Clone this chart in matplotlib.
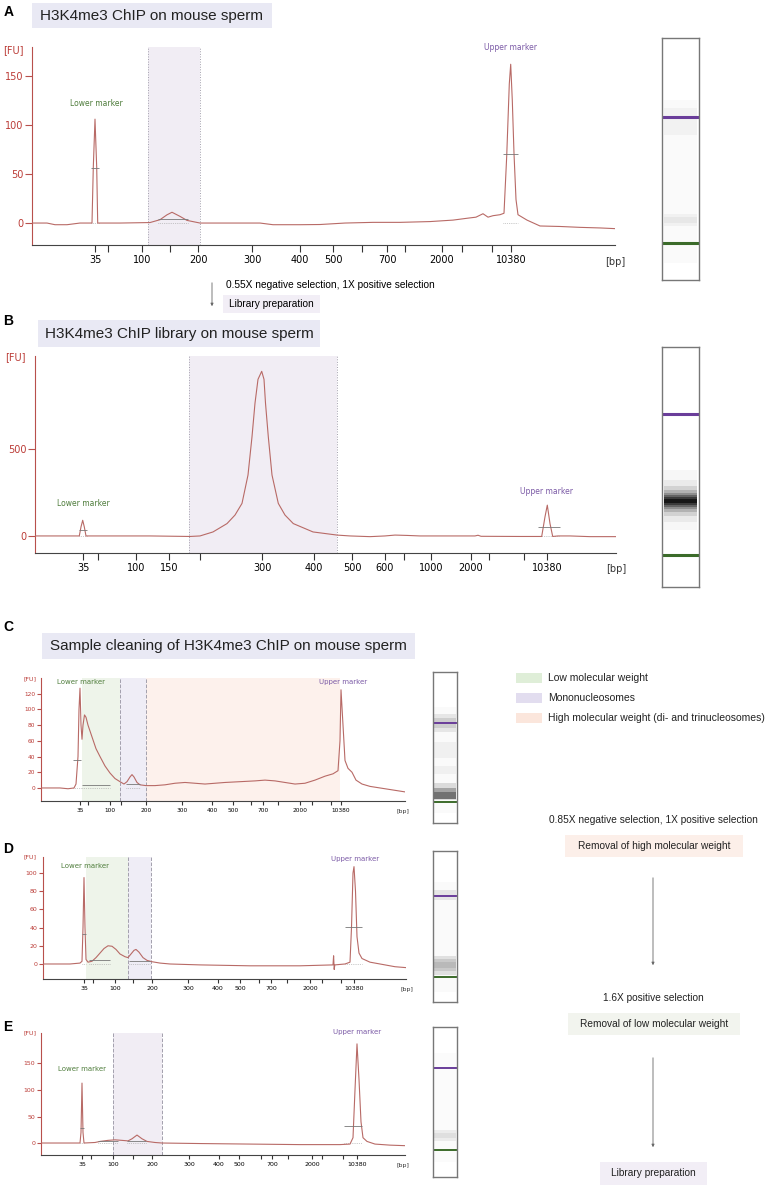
import matplotlib.pyplot as plt
from matplotlib.patches import Rectangle, FancyArrowPatch

W, H = 773, 1186

# x values are migration positions on the same scale as each panel's tick positions
# --- panel A: H3K4me3 ChIP on mouse sperm ---
a_trace = [(32, 0), (47, 0), (55, -1.7), (67, -1.7), (80, 0), (92, 0), (93.3, 57), (95, 106), (96.7, 57),
           (97.7, 0), (120, 0), (150, 0.5), (160, 3.4), (167, 8.4), (172, 11), (180, 6.8), (187, 2.7),
           (200, 0), (230, 0), (260, 0), (273, -1.7), (300, -1.7), (320, -1.5), (345, 0), (373, 0.7),
           (400, 0.7), (430, 1.5), (453, 3), (468, 5), (476, 6), (483, 9.5), (488, 6), (493, 7.5),
           (500, 8.5), (504, 10), (506.7, 68), (509.3, 142), (510.7, 162), (512.3, 125), (514, 71),
           (516, 24), (518, 8.5), (527, 3), (540, -3), (560, -3.5), (580, -4.4), (600, -5), (615, -5.7)]
a_ticks = [95, 108, 142, 170, 198, 252, 300, 333, 362, 387, 405, 442, 462, 492, 511]
a_labels = ['35', '', '100', '', '200', '300', '400', '500', '', '700', '', '2000', '', '', '10380']
a_yticks = [0, 50, 100, 150]
a_bars = [(91, 99, 56), (158, 188, 4), (503, 518, 70)]

# --- panel B: library ---
b_trace = [(35, 0), (60, 0), (79.3, 0), (81, 52), (82.7, 90), (84.3, 52), (86, 0), (120, 0), (150, 0),
           (190, -3), (200, 0), (213, 23), (227, 71), (235, 120), (242, 187), (248, 350), (252, 570),
           (255, 763), (258, 900), (261.7, 946), (264, 900), (265.5, 763), (268.3, 570), (272, 350),
           (278.3, 187), (285, 120), (293.3, 71), (313, 23), (337, 5), (350, 0), (370, -4), (385, 0),
           (395, 5), (407, 3), (420, 0), (475, 0), (478, 4), (481, -2), (520, -3), (541.7, -3), (545, 110),
           (547.3, 177), (550, 71), (552.7, -3), (558, 0), (570, 0), (590, -4), (616, -4)]
b_ticks = [83, 98, 136, 169, 200, 262, 314, 352, 385, 404, 431, 471, 489, 524, 547]
b_labels = ['35', '', '100', '150', '', '300', '400', '500', '600', '', '1000', '2000', '', '', '10380']
b_yticks = [0, 500]
b_bars = [(79, 87, 35), (538, 560, 50)]

# --- panel C: sample before cleaning ---
c_trace = [(41, 0), (60, 0), (68, -1), (74, 0), (76, 5), (78, 40), (79, 100), (80, 127), (81, 80), (82, 62),
           (83, 80), (84.5, 93), (86, 90), (88, 80), (92, 65), (96, 50), (100, 40), (105, 28), (110, 19),
           (115, 12), (120, 8), (124, 5), (127, 8), (130, 14), (132, 17), (134, 14), (137, 7), (140, 4),
           (146, 3), (155, 3), (165, 4), (175, 6), (185, 7), (195, 6), (205, 5), (215, 6), (225, 7),
           (240, 8), (255, 9), (265, 10), (275, 9), (285, 7), (295, 5), (305, 6), (315, 10), (325, 15),
           (333, 18), (338, 22), (340, 60), (341, 125), (343, 80), (345, 35), (348, 25), (352, 20),
           (356, 10), (362, 5), (370, 2), (380, 0), (395, -3), (405, -5)]
c_ticks = [80, 88, 110, 121, 146, 182, 212, 233, 251, 263, 278, 300, 312, 331, 341]
c_labels = ['35', '', '100', '', '200', '300', '400', '500', '', '700', '', '2000', '', '', '10380']
c_yticks = [0, 20, 40, 60, 80, 100, 120]
c_bars = [(73, 81, 35), (82, 110, 4), (126, 140, 5)]

# --- panel D: after removal of high molecular weight ---
d_trace = [(43, 0), (70, 0), (80, 1), (82, 3), (83, 40), (84, 95), (85, 40), (86, 5), (88, 2), (92, 3),
           (96, 7), (100, 12), (104, 17), (108, 20), (112, 19.5), (116, 16), (120, 11), (125, 8), (128, 7),
           (131, 11), (134, 15), (136, 16), (139, 13), (143, 7), (147, 4), (152, 2.5), (160, 1), (170, 0),
           (200, -1), (250, -2), (300, -2), (333, -1), (333.6, 9), (334.2, -6), (334.8, -1), (345, 0),
           (350, 2), (351.5, 40), (353, 100), (354, 107), (355.5, 80), (357, 30), (359, 12), (362, 6),
           (370, 2), (380, 0), (395, -3), (406, -4)]
d_ticks = [84, 93, 115, 133, 152, 188, 218, 240, 259, 271, 287, 310, 322, 341, 354]
d_labels = ['35', '', '100', '', '200', '300', '400', '500', '', '700', '', '2000', '', '', '10380']
d_yticks = [0, 20, 40, 60, 80, 100]
d_bars = [(82, 86, 33), (89, 110, 4), (129, 150, 3), (345, 362, 41)]

# --- panel E: after removal of low molecular weight ---
e_trace = [(41, 0), (70, 0), (80, 0), (81, 20), (82, 113), (83, 20), (84, 0), (95, 1), (100, 3), (108, 5),
           (115, 6), (122, 5), (128, 4), (132, 8), (137, 15), (142, 8), (147, 3), (155, 1), (162, 0),
           (200, -1), (250, -2), (300, -3), (340, -3), (350, -2), (353, 10), (355, 100), (357, 187),
           (359, 120), (361, 40), (363, 10), (367, 3), (375, -2), (390, -4), (405, -5)]
e_ticks = [82, 91, 113, 133, 152, 189, 219, 239, 261, 272, 288, 312, 322, 343, 357]
e_labels = ['35', '', '100', '', '200', '300', '400', '500', '', '700', '', '2000', '', '', '10380']
e_yticks = [0, 50, 100, 150]
e_bars = [(80, 84, 28), (98, 118, 3), (127, 146, 4), (344, 362, 32)]

# gel lanes: (top, bottom, darkness) smears and (position, colour) bands
lane_a_smears = [(100, 263, 0.02), (108, 135, 0.03), (214, 226, 0.035), (217, 223, 0.04)]
lane_a_bands = [(117, 'purple'), (243, 'green')]
lane_b_smears = [(470, 530, 0.03), (480, 522, 0.05), (486, 516, 0.1), (490, 512, 0.15), (493, 509, 0.2),
                 (495, 507, 0.3), (497, 505, 0.4), (499, 503, 0.6)]
lane_b_bands = [(414, 'purple'), (555, 'green')]
lane_c_smears = [(707, 813, 0.02), (714, 732, 0.08), (718, 728, 0.1), (742, 758, 0.04), (766, 774, 0.04),
                 (783, 800, 0.12), (788, 799, 0.25), (792, 799, 0.3)]
lane_c_bands = [(723, 'purple'), (802, 'green')]
lane_d_smears = [(882, 992, 0.02), (890, 900, 0.08), (956, 975, 0.1), (959, 971, 0.1), (962, 968, 0.08)]
lane_d_bands = [(896, 'purple'), (977, 'green')]
lane_e_smears = [(1053, 1162, 0.015), (1130, 1141, 0.06), (1133, 1138, 0.05)]
lane_e_bands = [(1068, 'purple'), (1150, 'green')]

TRACE = '#b86a66'
SPINE = '#b8504c'
RED = '#bb3b36'
GREEN_T = '#4f7d3c'
PURPLE_T = '#7b5aa6'
BAND = {'purple': '#6a3d9a', 'green': '#3b6b2a'}
LAV = '#f1edf4'

plt.rcParams['font.family'] = ['DejaVu Sans']
fig = plt.figure(figsize=(W / 100, H / 100), dpi=100)


def px_box(x0, y0, x1, y1):
    return [x0 / W, 1 - y1 / H, (x1 - x0) / W, (y1 - y0) / H]


def ftext(x, y, s, **kw):
    kw.setdefault('ha', 'center')
    kw.setdefault('va', 'center')
    fig.text(x / W, 1 - y / H, s, **kw)


def fbox(x0, y0, x1, y1, color):
    fig.add_artist(Rectangle((x0 / W, 1 - y1 / H), (x1 - x0) / W, (y1 - y0) / H,
                             transform=fig.transFigure, fc=color, ec='none', zorder=0))


def farrow(x, y0, y1):
    fig.add_artist(FancyArrowPatch((x / W, 1 - y0 / H), (x / W, 1 - y1 / H), transform=fig.transFigure,
                                   arrowstyle='-|>', mutation_scale=4, lw=0.6, color='#666'))


def electro(box, trace, bars, ylim, yticks, ticks, labels, spans, edges, ls, fs, tlen):
    ax = fig.add_axes(px_box(*box))
    for x0, x1, c in spans:
        ax.axvspan(x0, x1, color=c, lw=0, zorder=0)
    for e in edges:
        ax.axvline(e, color='#a3a0ad', lw=0.7, ls=ls, zorder=1)
    xs = [p[0] for p in trace]
    ys = [p[1] for p in trace]
    ax.plot(xs, ys, color=TRACE, lw=0.8, zorder=3)
    for x0, x1, y in bars:
        ax.hlines(y, x0, x1, color='#777', lw=0.6, zorder=4)
        ax.hlines(0, x0, x1, color='#999', lw=0.5, ls=':', zorder=2)
    ax.set_xlim(box[0], box[2])
    ax.set_ylim(*ylim)
    ax.set_xticks(ticks, labels)
    ax.set_yticks(yticks)
    ax.tick_params(axis='x', length=tlen, width=0.8, color='#333', labelsize=fs, pad=2)
    ax.tick_params(axis='y', length=tlen, width=0.8, color=SPINE, labelcolor=RED, labelsize=fs, pad=1)
    for s in ['top', 'right']:
        ax.spines[s].set_visible(False)
    ax.spines['left'].set_color(SPINE)
    ax.spines['bottom'].set_color('#444')
    ax.patch.set_alpha(0)
    return ax


def lane(box, smears, bands, bw):
    ax = fig.add_axes(px_box(*box))
    ax.set_xlim(0, 1)
    ax.set_ylim(box[3], box[1])
    for y0, y1, a in smears:
        ax.axhspan(y0, y1, xmin=0.06, xmax=0.94, color='k', alpha=a, lw=0)
    for y, c in bands:
        ax.axhline(y, xmin=0.06, xmax=0.94, color=BAND[c], lw=bw)
    ax.set_xticks([])
    ax.set_yticks([])
    for s in ax.spines.values():
        s.set_color('#777')
        s.set_linewidth(1)


SANS = 'Liberation Sans'

# ---------- A ----------
ftext(9, 12, 'A', fontsize=10, fontweight='bold', family=SANS)
fbox(32, 3, 272, 28, '#e9e9f4')
ftext(152, 16, 'H3K4me3 ChIP on mouse sperm', fontsize=11, family=SANS, color='#222')
electro((32, 47, 615, 245), a_trace, a_bars, (-22.4, 179.6), a_yticks, a_ticks, a_labels,
        [(148, 200, LAV)], [148, 200], ':', 7, 5)
ftext(13, 50, '[FU]', fontsize=7, color=RED)
ftext(615, 262, '[bp]', fontsize=7, color='#333')
ftext(96, 103, 'Lower marker', fontsize=5.5, color=GREEN_T)
ftext(511, 48, 'Upper marker', fontsize=5.5, color=PURPLE_T)
lane((662, 38, 699, 280), lane_a_smears, lane_a_bands, 2.2)

# A -> B
farrow(212, 280, 309)
ftext(226, 285, '0.55X negative selection, 1X positive selection', fontsize=7.3, family=SANS, ha='left')
fbox(223, 295, 320, 313, '#f2eef6')
ftext(271, 304, 'Library preparation', fontsize=7.3, family=SANS)

# ---------- B ----------
ftext(8, 321, 'B', fontsize=10, fontweight='bold', family=SANS)
fbox(38, 320, 320, 347, '#e9e9f4')
ftext(179, 334, 'H3K4me3 ChIP library on mouse sperm', fontsize=11, family=SANS, color='#222')
electro((35, 356, 616, 553), b_trace, b_bars, (-98, 1034), b_yticks, b_ticks, b_labels,
        [(189, 337, LAV)], [189, 337], ':', 7, 5)
ftext(15, 357, '[FU]', fontsize=7, color=RED)
ftext(616, 569, '[bp]', fontsize=7, color='#333')
ftext(83, 504, 'Lower marker', fontsize=5.5, color=GREEN_T)
ftext(547, 491, 'Upper marker', fontsize=5.5, color=PURPLE_T)
lane((662, 347, 699, 587), lane_b_smears, lane_b_bands, 2.2)

# ---------- C ----------
ftext(8, 627, 'C', fontsize=10, fontweight='bold', family=SANS)
fbox(42, 633, 415, 659, '#e9e9f4')
ftext(228, 646, 'Sample cleaning of H3K4me3 ChIP on mouse sperm', fontsize=11, family=SANS, color='#222')
electro((41, 678, 405, 801), c_trace, c_bars, (-16.6, 140), c_yticks, c_ticks, c_labels,
        [(82, 120, '#eef4ea'), (120, 146, '#efedf6'), (146, 340, '#fdf1ec')], [120, 146], '--', 4.2, 3)
ftext(30, 679, '[FU]', fontsize=4.5, color=RED)
ftext(403, 811, '[bp]', fontsize=4.5, color='#333')
ftext(81, 682, 'Lower marker', fontsize=5, color=GREEN_T)
ftext(343, 682, 'Upper marker', fontsize=5, color=PURPLE_T)
lane((433, 672, 457, 823), lane_c_smears, lane_c_bands, 1.4)

# legend
legend_items = ['Low molecular weight', 'Mononucleosomes', 'High molecular weight (di- and trinucleosomes)']
legend_colors = ['#dfeed8', '#e2ddef', '#fbe6dc']
for i, (t, c) in enumerate(zip(legend_items, legend_colors)):
    y = 678 + 20 * i
    fbox(516, y - 5, 542, y + 5, c)
    ftext(548, y, t, fontsize=7.5, family=SANS, ha='left', color='#222')

# ---------- D ----------
ftext(8, 849, 'D', fontsize=10, fontweight='bold', family=SANS)
electro((43, 857, 406, 979), d_trace, d_bars, (-16.5, 117.6), d_yticks, d_ticks, d_labels,
        [(86, 128, '#eef4ea'), (128, 151, '#efedf6')], [128, 151], '--', 4.5, 3)
ftext(30, 857, '[FU]', fontsize=4.5, color=RED)
ftext(407, 989, '[bp]', fontsize=4.5, color='#333')
ftext(85, 866, 'Lower marker', fontsize=5, color=GREEN_T)
ftext(355, 859, 'Upper marker', fontsize=5, color=PURPLE_T)
lane((433, 851, 457, 1002), lane_d_smears, lane_d_bands, 1.4)

# ---------- E ----------
ftext(8, 1027, 'E', fontsize=10, fontweight='bold', family=SANS)
electro((41, 1033, 405, 1155), e_trace, e_bars, (-22.6, 207.5), e_yticks, e_ticks, e_labels,
        [(113, 162, LAV)], [113, 162], '--', 4.5, 3)
ftext(30, 1033, '[FU]', fontsize=4.5, color=RED)
ftext(403, 1165, '[bp]', fontsize=4.5, color='#333')
ftext(82, 1069, 'Lower marker', fontsize=5, color=GREEN_T)
ftext(357, 1032, 'Upper marker', fontsize=5, color=PURPLE_T)
lane((433, 1027, 457, 1177), lane_e_smears, lane_e_bands, 1.4)

# ---------- cleaning workflow ----------
ftext(653, 820, '0.85X negative selection, 1X positive selection', fontsize=7.3, family=SANS, color='#222')
fbox(565, 835, 743, 857, '#fcefe9')
ftext(654, 846, 'Removal of high molecular weight', fontsize=7.3, family=SANS, color='#222')
farrow(653, 875, 968)
ftext(653, 998, '1.6X positive selection', fontsize=7.3, family=SANS, color='#222')
fbox(568, 1013, 740, 1035, '#f2f4ee')
ftext(654, 1024, 'Removal of low molecular weight', fontsize=7.3, family=SANS, color='#222')
farrow(653, 1055, 1150)
fbox(600, 1162, 707, 1185, '#f2eef6')
ftext(653, 1173, 'Library preparation', fontsize=7.3, family=SANS, color='#222')

fig.savefig('out.png', dpi=100)
